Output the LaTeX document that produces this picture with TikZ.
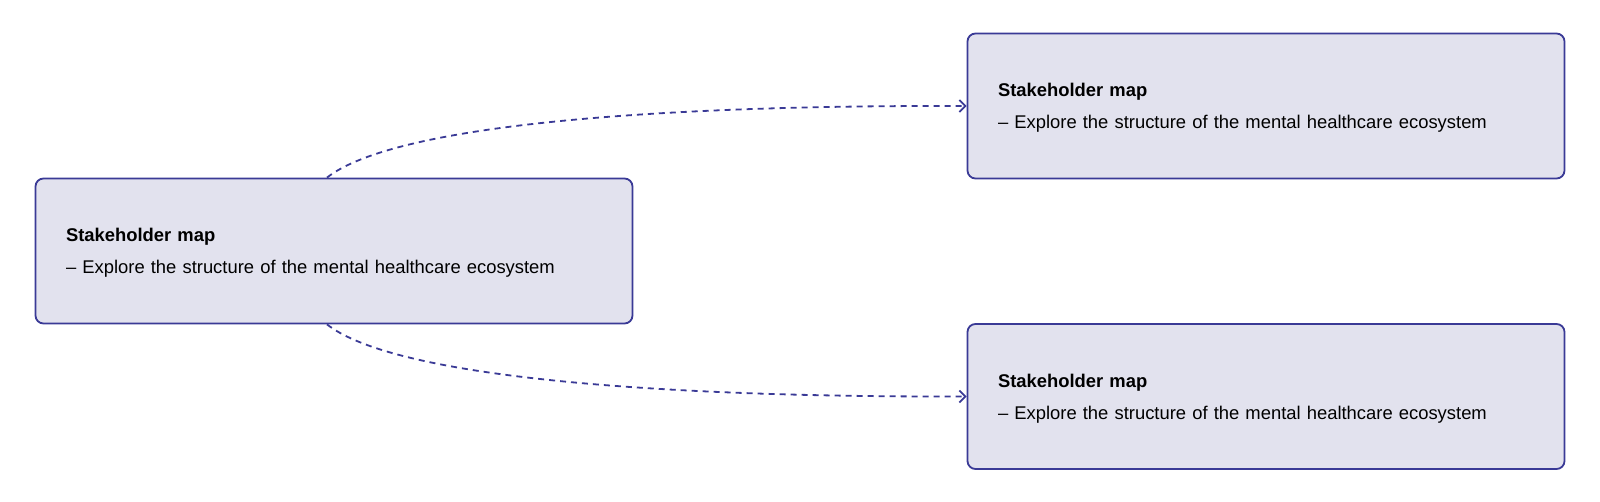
\documentclass[tikz,border=0pt]{standalone}
\usepackage{fontspec}
\setmainfont{Liberation Sans}
\usetikzlibrary{arrows.meta}
\usetikzlibrary{positioning}
\definecolor{boxline}{RGB}{58,58,150}
\definecolor{boxfill}{RGB}{226,226,238}
\newcommand{\mapcard}{\rule{0pt}{17.5pt}\textbf{Stakeholder map}\\– Explore the structure of the mental healthcare ecosystem}

\begin{document}
\begin{tikzpicture}[>={Straight Barb[length=6pt, width=12pt]}, x=1pt, y=1pt,
  card/.style={draw=boxline, fill=boxfill, line width=1.8pt, rounded corners=8pt,
    minimum width=597pt, minimum height=145pt, text width=536pt, inner xsep=30.5pt,
    align=left, font=\fontsize{18.4}{31.7}\selectfont},
  link/.style={boxline, line width=1.8pt, dash pattern=on 6pt off 5pt}]
  \useasboundingbox (0,0) rectangle (1600,502);

  \node[card] (map) at (334,251) {\mapcard};
  \node[card] (mapup) at (1266,396) {\mapcard};
  \node[card] (mapdown) at (1266,105.5) {\mapcard};

  \draw[link, ->] ([xshift=-7pt]map.north) .. controls +(38:120) and +(-93,0) .. (mapup.west);
  \draw[link, ->] ([xshift=-7pt]map.south) .. controls +(-38:120) and +(-93,0) .. (mapdown.west);
\end{tikzpicture}
\end{document}
